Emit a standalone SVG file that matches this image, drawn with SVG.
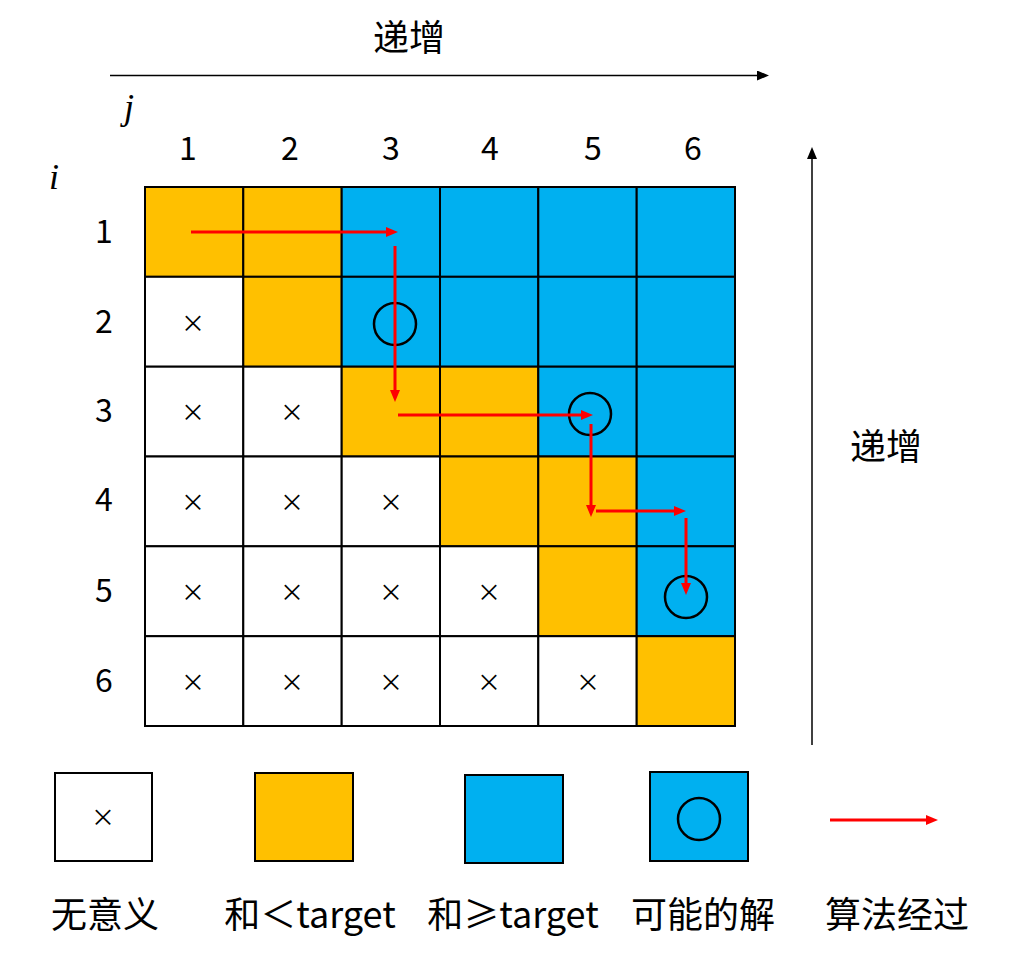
<svg xmlns="http://www.w3.org/2000/svg" width="1033" height="959" viewBox="0 0 1033 959">
<defs>
<style>
.o{fill:#FFC000;stroke:#000;stroke-width:2}
.b{fill:#00B0F0;stroke:#000;stroke-width:2}
.w{fill:#fff;stroke:#000;stroke-width:2}
.t{font-family:"Noto Sans CJK SC","Liberation Sans",sans-serif;fill:#000;text-anchor:middle}
.num{font-size:32px}
.x{font-size:24px}
.lab{font-size:36px}
.it{font-family:"Liberation Serif",serif;font-style:italic;font-size:36px;fill:#000}
.red{stroke:#FF0000;stroke-width:3;fill:none}
.ax{stroke:#000;stroke-width:1.5;fill:none}
.c{fill:none;stroke:#000;stroke-width:2.5}
</style>
<marker id="ra" markerUnits="userSpaceOnUse" markerWidth="13" markerHeight="11" refX="0" refY="5" orient="auto"><path d="M0,0 L12,5 L0,10 z" fill="#FF0000"/></marker>
<marker id="ka" markerUnits="userSpaceOnUse" markerWidth="13" markerHeight="11" refX="0" refY="5" orient="auto"><path d="M0,0 L12,5 L0,10 z" fill="#000"/></marker>
</defs>
<rect width="1033" height="959" fill="#fff"/>

<g id="axes">
<line class="ax" x1="110" y1="75.5" x2="757" y2="75.5" marker-end="url(#ka)"/>
<line class="ax" x1="812" y1="745" x2="812" y2="159" marker-end="url(#ka)"/>
<text class="t lab" x="409" y="51">递增</text>
<text class="t lab" x="886" y="460">递增</text>
<text class="it" x="124" y="119">j</text>
<text class="it" x="49" y="189">i</text>
</g>

<g id="col-labels">
<text class="t num" x="188" y="160">1</text>
<text class="t num" x="290" y="160">2</text>
<text class="t num" x="391" y="160">3</text>
<text class="t num" x="490" y="160">4</text>
<text class="t num" x="593" y="160">5</text>
<text class="t num" x="693" y="160">6</text>
</g>
<g id="row-labels">
<text class="t num" x="104" y="243">1</text>
<text class="t num" x="104" y="333">2</text>
<text class="t num" x="104" y="422">3</text>
<text class="t num" x="104" y="511">4</text>
<text class="t num" x="104" y="602">5</text>
<text class="t num" x="104" y="692">6</text>
</g>

<g id="grid">
<rect class="o" x="145" y="187" width="98.3" height="89.8"/>
<rect class="o" x="243.3" y="187" width="98.4" height="89.8"/>
<rect class="b" x="341.7" y="187" width="98.3" height="89.8"/>
<rect class="b" x="440" y="187" width="98.3" height="89.8"/>
<rect class="b" x="538.3" y="187" width="98.4" height="89.8"/>
<rect class="b" x="636.7" y="187" width="98.3" height="89.8"/>

<rect class="w" x="145" y="276.8" width="98.3" height="89.9"/>
<rect class="o" x="243.3" y="276.8" width="98.4" height="89.9"/>
<rect class="b" x="341.7" y="276.8" width="98.3" height="89.9"/>
<rect class="b" x="440" y="276.8" width="98.3" height="89.9"/>
<rect class="b" x="538.3" y="276.8" width="98.4" height="89.9"/>
<rect class="b" x="636.7" y="276.8" width="98.3" height="89.9"/>

<rect class="w" x="145" y="366.7" width="98.3" height="89.8"/>
<rect class="w" x="243.3" y="366.7" width="98.4" height="89.8"/>
<rect class="o" x="341.7" y="366.7" width="98.3" height="89.8"/>
<rect class="o" x="440" y="366.7" width="98.3" height="89.8"/>
<rect class="b" x="538.3" y="366.7" width="98.4" height="89.8"/>
<rect class="b" x="636.7" y="366.7" width="98.3" height="89.8"/>

<rect class="w" x="145" y="456.5" width="98.3" height="89.8"/>
<rect class="w" x="243.3" y="456.5" width="98.4" height="89.8"/>
<rect class="w" x="341.7" y="456.5" width="98.3" height="89.8"/>
<rect class="o" x="440" y="456.5" width="98.3" height="89.8"/>
<rect class="o" x="538.3" y="456.5" width="98.4" height="89.8"/>
<rect class="b" x="636.7" y="456.5" width="98.3" height="89.8"/>

<rect class="w" x="145" y="546.3" width="98.3" height="89.9"/>
<rect class="w" x="243.3" y="546.3" width="98.4" height="89.9"/>
<rect class="w" x="341.7" y="546.3" width="98.3" height="89.9"/>
<rect class="w" x="440" y="546.3" width="98.3" height="89.9"/>
<rect class="o" x="538.3" y="546.3" width="98.4" height="89.9"/>
<rect class="b" x="636.7" y="546.3" width="98.3" height="89.9"/>

<rect class="w" x="145" y="636.2" width="98.3" height="89.8"/>
<rect class="w" x="243.3" y="636.2" width="98.4" height="89.8"/>
<rect class="w" x="341.7" y="636.2" width="98.3" height="89.8"/>
<rect class="w" x="440" y="636.2" width="98.3" height="89.8"/>
<rect class="w" x="538.3" y="636.2" width="98.4" height="89.8"/>
<rect class="o" x="636.7" y="636.2" width="98.3" height="89.8"/>
</g>

<g id="marks">
<text class="t x" x="193" y="332">×</text>
<text class="t x" x="193" y="421">×</text>
<text class="t x" x="292" y="421">×</text>
<text class="t x" x="193" y="511">×</text>
<text class="t x" x="292" y="511">×</text>
<text class="t x" x="391" y="511">×</text>
<text class="t x" x="193" y="601">×</text>
<text class="t x" x="292" y="601">×</text>
<text class="t x" x="391" y="601">×</text>
<text class="t x" x="489" y="601">×</text>
<text class="t x" x="193" y="691">×</text>
<text class="t x" x="292" y="691">×</text>
<text class="t x" x="391" y="691">×</text>
<text class="t x" x="489" y="691">×</text>
<text class="t x" x="588" y="691">×</text>
<circle class="c" cx="395" cy="324" r="21"/>
<circle class="c" cx="590" cy="414" r="21"/>
<circle class="c" cx="686" cy="597" r="21"/>
</g>

<g id="connectors">
<line class="red" x1="191" y1="232" x2="386" y2="232" marker-end="url(#ra)"/>
<line class="red" x1="395" y1="246" x2="395" y2="390" marker-end="url(#ra)"/>
<line class="red" x1="398" y1="415" x2="581" y2="415" marker-end="url(#ra)"/>
<line class="red" x1="591" y1="424" x2="591" y2="505" marker-end="url(#ra)"/>
<line class="red" x1="596" y1="511" x2="674" y2="511" marker-end="url(#ra)"/>
<line class="red" x1="686" y1="518" x2="686" y2="583" marker-end="url(#ra)"/>
</g>

<g id="legend">
<g id="legend-none">
<rect class="w" x="55" y="773" width="97" height="88"/>
<text class="t x" x="103" y="826">×</text>
<text class="t lab" x="105" y="928">无意义</text>
</g>
<g id="legend-less">
<rect class="o" x="255" y="773" width="98" height="88"/>
<text class="t lab" x="310" y="928">和＜target</text>
</g>
<g id="legend-geq">
<rect class="b" x="465" y="775" width="98" height="88"/>
<text class="t lab" x="513" y="928">和≥target</text>
</g>
<g id="legend-solution">
<rect class="b" x="650" y="772" width="98" height="89"/>
<circle class="c" cx="699" cy="819" r="21"/>
<text class="t lab" x="703" y="928">可能的解</text>
</g>
<g id="legend-path">
<line class="red" x1="830" y1="820" x2="926" y2="820" marker-end="url(#ra)"/>
<text class="t lab" x="897" y="928">算法经过</text>
</g>
</g>
</svg>
